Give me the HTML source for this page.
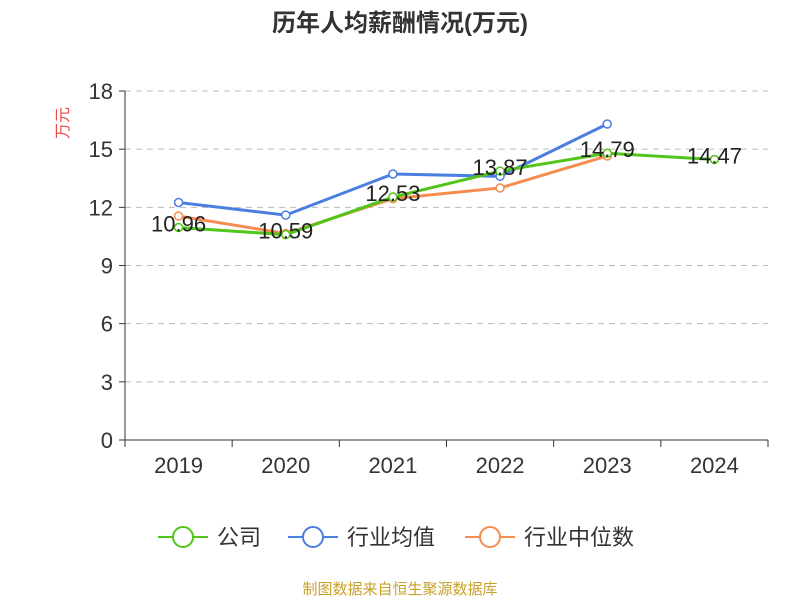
<!DOCTYPE html>
<html><head><meta charset="utf-8"><style>
body{margin:0;background:#fff;font-family:"Liberation Sans","Noto Sans CJK SC",sans-serif;}
</style></head><body>
<svg id="chart" width="800" height="600" xmlns="http://www.w3.org/2000/svg">
<text x="400" y="31" text-anchor="middle" font-size="24" font-weight="bold" fill="#333">历年人均薪酬情况(万元)</text>
<text transform="translate(68,123) rotate(-90)" text-anchor="middle" font-size="16" fill="#e84a4a">万元</text>
<g id="grid"></g><g id="axes"></g><g id="series"></g>
<g id="legend"></g>
<text x="400" y="594" text-anchor="middle" font-size="15" fill="#c8a02a">制图数据来自恒生聚源数据库</text>
</svg>
<script>
const categories=["2019","2020","2021","2022","2023","2024"];
const companyValues=[10.96,10.59,12.53,13.87,14.79,14.47];
const avgValues=[12.25,11.6,13.72,13.6,16.3,null];
const medianValues=[11.55,10.65,12.45,13.0,14.65,null];
const yTicks=[0,3,6,9,12,15,18];
const NS="http://www.w3.org/2000/svg";
const x0=125,x1=768,yb=440,yt=91,yMax=18;
const step=(x1-x0)/categories.length;
const X=i=>x0+step*(i+0.5);
const Y=v=>yb-(v/yMax)*(yb-yt);
function mk(t,a,p){const e=document.createElementNS(NS,t);for(const k in a)e.setAttribute(k,a[k]);p.appendChild(e);return e;}
const grid=document.getElementById('grid'),axes=document.getElementById('axes'),ser=document.getElementById('series'),leg=document.getElementById('legend');
yTicks.forEach(v=>{
 if(v>0){const l=mk('line',{x1:x0,x2:x1,y1:Y(v),y2:Y(v),stroke:'#bbb','stroke-dasharray':'6,5'},grid);
 }
 const tk=mk('line',{x1:x0-6,x2:x0,y1:Y(v),y2:Y(v),stroke:'#333'},axes);
 
 const t=mk('text',{x:x0-12,y:Y(v)+8,'text-anchor':'end','font-size':22,fill:'#333'},axes);t.textContent=v;
 
});
const ya=mk('line',{x1:x0,x2:x0,y1:yt,y2:yb,stroke:'#333'},axes);

const xa=mk('line',{x1:x0,x2:x1,y1:yb,y2:yb,stroke:'#333'},axes);

for(let i=0;i<=categories.length;i++){const tk=mk('line',{x1:x0+step*i,x2:x0+step*i,y1:yb,y2:yb+7,stroke:'#333'},axes);
 }
categories.forEach((c,i)=>{const t=mk('text',{x:X(i),y:yb+33,'text-anchor':'middle','font-size':22,fill:'#333'},axes);t.textContent=c;
 });
function draw(vals,color,name,labels){
 const g=mk('g',{},ser);
 const pts=vals.map((v,i)=>v==null?null:[X(i),Y(v)]).filter(p=>p);
 const pl=mk('polyline',{points:pts.map(p=>p.join(',')).join(' '),fill:'none',stroke:color,'stroke-width':3},g);
 
 vals.forEach((v,i)=>{if(v==null)return;const c=mk('circle',{cx:X(i),cy:Y(v),r:4,fill:'#fff',stroke:color,'stroke-width':1.5},g);
  });
 if(labels)vals.forEach((v,i)=>{const t=mk('text',{x:X(i),y:Y(v)+4,'text-anchor':'middle','font-size':22,fill:'#222'},g);t.textContent=v.toFixed(2);
  });
}
draw(avgValues,'#4a7fe0','industry-average');
draw(medianValues,'#f78c50','industry-median');
draw(companyValues,'#52c41a','company',true);
[["公司","#52c41a",158],["行业均值","#4a7fe0",288],["行业中位数","#f78c50",465]].forEach(([n,c,x])=>{
 const g=mk('g',{},leg);
 mk('line',{x1:x,x2:x+50,y1:537,y2:537,stroke:c,'stroke-width':2},g);
 mk('circle',{cx:x+25,cy:537,r:10,fill:'#fff',stroke:c,'stroke-width':2},g);
 const t=mk('text',{x:x+59,y:545,'font-size':22,fill:'#333'},g);t.textContent=n;
});
</script>
</body></html>
